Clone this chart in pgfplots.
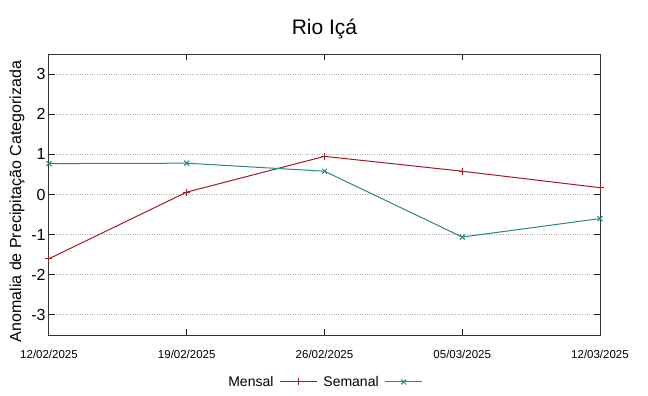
\documentclass[border=0pt]{standalone}
\usepackage{pgfplots}
\pgfplotsset{compat=1.18}
\usepackage{fontspec}
\setmainfont{Liberation Sans}
\definecolor{mensal}{HTML}{A01C24}
\definecolor{semanal}{HTML}{2A8585}
\begin{document}
\begin{tikzpicture}
\useasboundingbox (-49bp,-61bp) rectangle (599bp,335bp);
\begin{axis}[
 at={(0,0)}, anchor=south west,
 width=551bp, height=281bp, scale only axis,
 xmin=0, xmax=4, ymin=-3.5, ymax=3.5,
 xtick={0,1,2,3,4},
 xticklabels={12/02/2025,19/02/2025,26/02/2025,05/03/2025,12/03/2025},
 ytick={-3,-2,-1,0,1,2,3},
 tick align=inside, major tick length=6bp,
 xtick pos=both, ytick pos=both,
 ymajorgrids, grid style={dotted, gray!65, line width=1bp},
 axis line style={gray!40!black, line width=1bp},
 tick style={gray!20!black, line width=1bp},
 /pgf/number format/assume math mode=true,
 yticklabel style={font=\fontsize{16bp}{18bp}\selectfont},
 xticklabel style={font=\fontsize{11.5bp}{13bp}\selectfont, yshift=-12bp},
 ylabel={Anomalia de Precipitação Categorizada},
 ylabel style={font=\fontsize{16bp}{18bp}\selectfont, at={(ticklabel cs:0.475)}},
 title={Rio Içá},
 title style={font=\fontsize{21bp}{24bp}\selectfont, yshift=6bp},
 legend columns=2, legend plot pos=right,
 legend style={draw=none, fill=none, at={(0.5,-0.167)}, anchor=center,
   font=\fontsize{14bp}{16bp}\selectfont, column sep=4bp},
 legend image code/.code={\draw[mark repeat=2,mark phase=2,#1] plot coordinates {(0bp,0bp) (18.5bp,0bp) (37bp,0bp)};},
]
\addplot[color=mensal, line width=1bp, mark=+, mark size=3.5bp] coordinates {
 (0,-1.60) (1,0.06) (2,0.95) (3,0.58) (4,0.17)};
\addlegendentry{Mensal}
\addplot[color=semanal, line width=1bp, mark=x, mark size=3.5bp] coordinates {
 (0,0.77) (1,0.78) (2,0.58) (3,-1.06) (4,-0.60)};
\addlegendentry{Semanal}
\end{axis}
\end{tikzpicture}
\end{document}
